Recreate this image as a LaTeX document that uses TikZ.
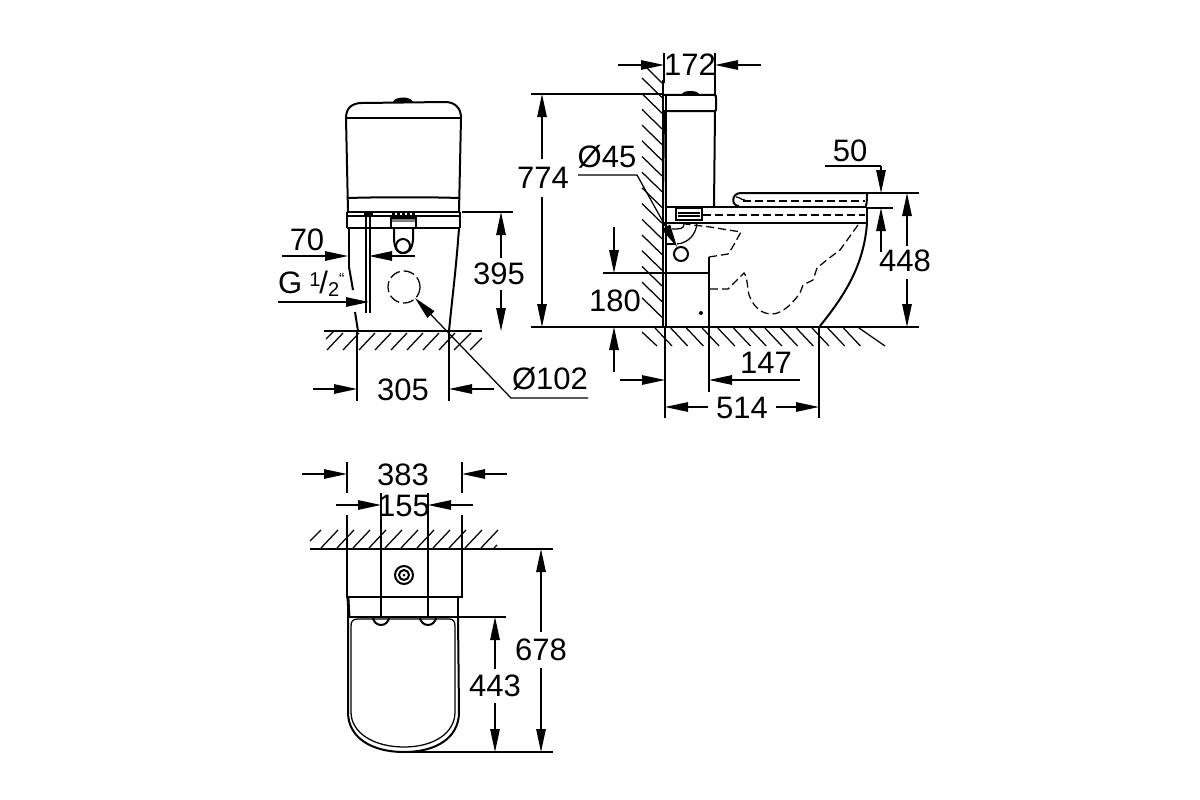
\documentclass[tikz,border=0pt]{standalone}
\usepackage{fontspec}
\setmainfont{Liberation Sans}
\usetikzlibrary{arrows.meta}
\tikzset{
  thin line/.style={line width=1.25pt},
  body/.style={line width=2pt},
  heavy/.style={line width=2.8pt},
  hidden/.style={line width=1.25pt, dash pattern=on 8pt off 4pt},
  dim/.style={line width=1.25pt, >={Triangle[length=23pt,width=9.5pt]}},
  size/.style={font=\fontsize{31}{31}\selectfont, inner sep=0pt},
}
\begin{document}
\begin{tikzpicture}[x=1pt,y=-1pt]
  \useasboundingbox (0,0) rectangle (1200,800);

  % front view
  \draw[body] (346,118) .. controls (346,108) and (352,103) .. (362,103)
    -- (445,102) .. controls (455,102) and (461,108) .. (461,118);
  \fill (393,102) .. controls (395,96) and (411,96) .. (413,102) -- cycle;
  \draw[body] (346,118) -- (461,118);
  \draw[body] (346,118) -- (348,212);
  \draw[body] (461,118) -- (459,212);
  \draw[body] (348,198) .. controls (380,197) and (430,197) .. (459,198);
  \draw[heavy] (347,212) -- (460,212);
  \draw[body] (347,216) -- (460,216);
  \draw[heavy] (347,228) -- (460,228);
  \draw[body] (347,212) -- (347,228);
  \draw[body] (460,212) -- (460,228);
  \draw[body] (349,228) -- (349,267);
  \draw[body] (349,267) -- (353,290);
  \draw[body] (355,312) -- (358,331);
  \draw[body] (459,228) .. controls (456,270) and (452,300) .. (449,331);
  \draw[thin line] (366,213) -- (366,313);
  \draw[body] (370,213) -- (370,313);
  \fill (364,211) rectangle (373,215);
  \foreach \px in {392,397,...,412} {
    \fill (\px,213) rectangle +(2.5,3);
  }
  \draw[body] (391,218) rectangle (416,228);
  \fill[gray] (392,219) rectangle (415,222);
  \draw[body] (394,228) -- (394,240) .. controls (395,250) and (398,253) .. (403,253);
  \draw[body] (413,228) -- (413,240) .. controls (412,250) and (408,253) .. (403,253);
  \draw[body] (403,246) circle (7);
  \draw[hidden, dash pattern=on 11pt off 4pt] (404,287) circle (16);

  % floor under front view
  \draw[body] (324,331) -- (482,331);
  \draw[thin line] (326,339) -- (334,331);
  \foreach \hx in {343,359,...,455} {
    \draw[thin line] (\hx-16,350) -- (\hx,333);
  }
  \draw[thin line] (454,350) -- (471,333);
  \draw[thin line] (470,350) -- (482,338);

  % front view dimensions
  \draw[thin line] (462,212) -- (513,212);
  \draw[dim,->] (501,258) -- (501,212);
  \draw[dim,->] (501,290) -- (501,331);
  \node[size] (label395) at (499,274) {395};
  \draw[dim,->] (282,256) -- (348,256);
  \draw[dim,->] (415,256) -- (369,256);
  \node[size] (label70) at (307,240) {70};
  \draw[dim,->] (278,302) -- (369,302);
  \node[size, anchor=west] (labelG) at (278,284) {G\hspace{7pt}\raisebox{7pt}{\fontsize{20}{20}\selectfont 1}\hspace{-1pt}/\raisebox{-3pt}{\fontsize{20}{20}\selectfont 2}\raisebox{9pt}{\fontsize{16}{16}\selectfont “}};
  \draw[thin line] (357,331) -- (357,401);
  \draw[thin line] (449,331) -- (449,401);
  \draw[dim,->] (313,389) -- (357,389);
  \draw[dim,->] (494,389) -- (449,389);
  \node[size] (label305) at (403,390) {305};
  \draw[dim,->] (588,398) -- (511,398) -- (415,298);
  \node[size] (label102) at (550,379) {Ø102};

  % side view wall and floor
  \draw[heavy] (663,80) -- (663,327);
  \draw[body] (666,95) -- (666,327);
  \draw[thin line] (647,68) -- (662,83);
  \foreach \hy in {78,93.7,...,300} {
    \draw[thin line] (642,\hy) -- (662,\hy+19.5);
  }
  \draw[body] (531,327) -- (919,327);
  \draw[thin line] (642,332) -- (657,346);
  \foreach \hk in {0,...,12} {
    \draw[thin line] (655+15.7*\hk,328) -- (672+15.7*\hk,346);
  }
  \draw[thin line] (859,328) -- (885,346);

  % side view cistern
  \fill (682,94) .. controls (684,90) and (697,90) .. (699,94) -- cycle;
  \draw[body] (664,95) -- (714,95) .. controls (716,95) and (716,96) .. (716,98) -- (716,109) .. controls (716,110) and (716,111) .. (714,111) -- (664,111);
  \draw[body] (715,111) -- (714,207);
  \draw[body] (665,111) -- (666,206);

  % seat and rim
  \draw[body] (867,193) -- (741,193) .. controls (731,193) and (731,206) .. (739,206);
  \draw[thin line] (736,197) .. controls (740,197) and (741,200) .. (745,200);
  \draw[body] (867,193) .. controls (867,198) and (867,202) .. (866,206);
  \draw[hidden] (743,201) -- (865,201);
  \draw[heavy] (714,207) -- (867,207);
  \draw[body] (867,207) -- (867,223);
  \draw[body] (665,207) -- (714,207);
  \draw[heavy] (664,223) -- (867,223);
  \draw[hidden] (703,215) -- (865,215);
  \draw[body] (676,208) rectangle (702,220);
  \draw[thin line] (678,213) -- (700,213);
  \draw[thin line] (678,216) -- (700,216);
  \foreach \px in {680,686,692} {
    \fill (\px,206) rectangle +(3,2);
  }

  % bowl
  \draw[body] (867,223) .. controls (864,265) and (845,295) .. (820,326);
  \draw[hidden] (858,225) -- (840,250) -- (828,259) -- (817,268) -- (813,280) -- (803,285) -- (800,293)
    .. controls (790,307) and (780,314) .. (772,314) .. controls (762,314) and (754,308) .. (749,295)
    .. controls (747,285) and (747,275) .. (744,273) -- (728,289) -- (709,289);
  \draw[hidden] (709,257) -- (728,254) -- (732,248) -- (741,232) -- (710,227) -- (685,224);
  \draw[thin line] (709,257) -- (709,392);
  \draw[thin line] (697,223) .. controls (696,235) and (688,243) .. (677,244);
  \draw[thin line] (666,244) -- (676,244);
  \draw[thin line] (684,224) .. controls (684,229) and (680,229) .. (672,229);
  \draw[body] (681,254) circle (7);
  \fill (701,313) circle (2);

  % side view dimensions
  \draw[thin line] (664,53) -- (664,83);
  \draw[thin line] (715,53) -- (715,95);
  \draw[dim,->] (618,65) -- (664,65);
  \draw[dim,->] (761,65) -- (715,65);
  \node[size] (label172) at (690,65) {172};
  \draw[thin line] (531,94) -- (664,94);
  \draw[dim,->] (542,159) -- (542,94);
  \draw[dim,->] (542,197) -- (542,327);
  \node[size] (label774) at (543,178) {774};
  \draw[dim,->] (578,175) -- (637,175) -- (677,247);
  \node[size] (label45) at (607,157) {Ø45};
  \draw[thin line] (825,166) -- (881,166);
  \draw[dim,->] (881,166) -- (881,193);
  \draw[thin line] (867,193) -- (919,193);
  \draw[thin line] (867,208) -- (893,208);
  \draw[dim,->] (881,252) -- (881,208);
  \node[size] (label50) at (850,151) {50};
  \draw[dim,->] (907,246) -- (907,193);
  \draw[dim,->] (907,279) -- (907,327);
  \node[size] (label448) at (905,261) {448};
  \draw[thin line] (603,273) -- (709,273);
  \draw[dim,->] (614,227) -- (614,273);
  \draw[dim,->] (614,372) -- (614,327);
  \node[size] (label180) at (615,301) {180};
  \draw[thin line] (665,327) -- (665,418);
  \draw[thin line] (819,327) -- (819,418);
  \draw[dim,->] (620,380) -- (665,380);
  \draw[dim,->] (800,380) -- (709,380);
  \node[size] (label147) at (766,363) {147};
  \draw[dim,->] (708,407) -- (665,407);
  \draw[dim,->] (776,407) -- (819,407);
  \node[size] (label514) at (742,408) {514};

  % top view
  \draw[body] (310,549) -- (553,549);
  \draw[thin line] (310,541) -- (321,530);
  \foreach \hk in {1,...,11} {
    \draw[thin line] (305+16*\hk,548) -- (322+16*\hk,530);
  }
  \draw[thin line] (494,548) -- (497,545);
  \draw[body] (347,550) -- (347,597) -- (462,597) -- (462,550);
  \draw[heavy] (348,598) -- (349,617);
  \draw[heavy] (458,598) -- (458,617);
  \draw[heavy] (349,617) -- (458,617);
  \draw[body] (404,575) circle (9);
  \draw[body] (404,575) circle (5);
  \fill (404,575) circle (1.5);
  \draw[body] (373,617) arc (180:0:8);
  \draw[body] (420,617) arc (180:0:8);
  \draw[body] (348,598) -- (348,712) .. controls (348,738) and (372,752) .. (404,752) .. controls (436,752) and (459,738) .. (459,712) -- (458,617);
  \draw[thin line] (351,626) .. controls (351,621) and (353,619) .. (358,619) -- (449,619) .. controls (453,619) and (455,621) .. (455,626)
    -- (455,712) .. controls (455,733) and (434,747) .. (404,747) .. controls (374,747) and (351,733) .. (351,712) -- cycle;

  % top view dimensions
  \draw[thin line] (347,462) -- (347,493);
  \draw[thin line] (347,515) -- (347,548);
  \draw[thin line] (462,462) -- (462,493);
  \draw[thin line] (462,515) -- (462,548);
  \draw[dim,->] (302,474) -- (347,474);
  \draw[dim,->] (507,474) -- (462,474);
  \node[size] (label383) at (403,475) {383};
  \draw[thin line] (381,493) -- (381,618);
  \draw[thin line] (428,493) -- (428,618);
  \draw[dim,->] (336,505) -- (381,505);
  \draw[dim,->] (473,505) -- (428,505);
  \node[size] (label155) at (404,506) {155};
  \draw[thin line] (458,617) -- (506,617);
  \draw[thin line] (404,752) -- (553,752);
  \draw[dim,->] (495,669) -- (495,617);
  \draw[dim,->] (495,703) -- (495,752);
  \node[size] (label443) at (495,686) {443};
  \draw[dim,->] (541,632) -- (541,549);
  \draw[dim,->] (541,668) -- (541,752);
  \node[size] (label678) at (541,650) {678};
\end{tikzpicture}
\end{document}
